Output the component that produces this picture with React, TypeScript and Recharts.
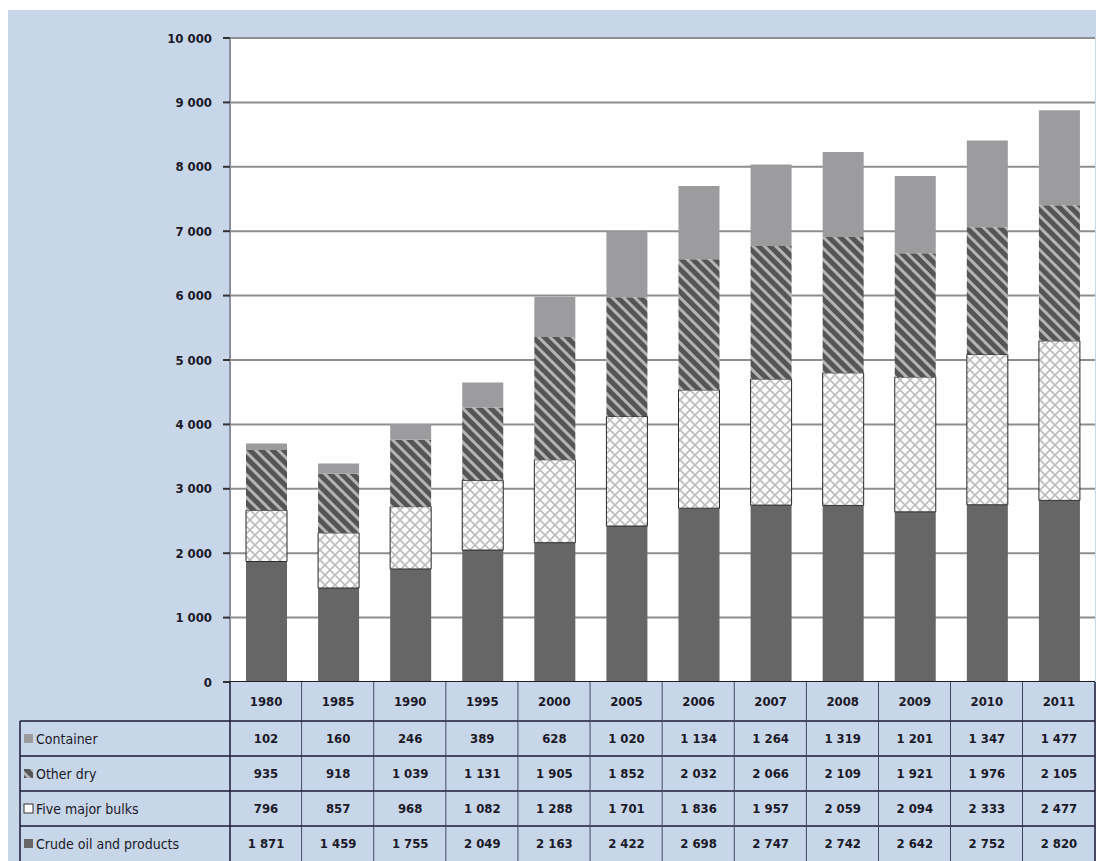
import React from 'react';
import { BarChart, Bar, XAxis, YAxis, CartesianGrid } from 'recharts';

const YEARS = ['1980', '1985', '1990', '1995', '2000', '2005', '2006', '2007', '2008', '2009', '2010', '2011'];
const CONTAINER = [102, 160, 246, 389, 628, 1020, 1134, 1264, 1319, 1201, 1347, 1477];
const OTHER_DRY = [935, 918, 1039, 1131, 1905, 1852, 2032, 2066, 2109, 1921, 1976, 2105];
const FIVE_MAJOR = [796, 857, 968, 1082, 1288, 1701, 1836, 1957, 2059, 2094, 2333, 2477];
const CRUDE = [1871, 1459, 1755, 2049, 2163, 2422, 2698, 2747, 2742, 2642, 2752, 2820];
const Y_TICKS = [0, 1000, 2000, 3000, 4000, 5000, 6000, 7000, 8000, 9000, 10000];

const SERIES_ROWS = [
  { label: 'Container', values: CONTAINER, key: 'container' },
  { label: 'Other dry', values: OTHER_DRY, key: 'other' },
  { label: 'Five major bulks', values: FIVE_MAJOR, key: 'five' },
  { label: 'Crude oil and products', values: CRUDE, key: 'crude' },
];

const data = YEARS.map((year, i) => ({
  year,
  crude: CRUDE[i],
  five: FIVE_MAJOR[i],
  other: OTHER_DRY[i],
  container: CONTAINER[i],
}));

const W = 1096;
const H = 861;
const LEFT = 230;
const RIGHT_M = 1;
const TOP = 38;
const XAXIS_H = 179;
const COL_W = (W - LEFT - RIGHT_M) / YEARS.length;
const HEADER_H = 39;
const ROW_H = 35;
const LABEL_LEFT = 20;
const FONT = "'Liberation Sans Narrow', 'DejaVu Sans Condensed', 'Arial Narrow', sans-serif";
const TEXT = '#1a1a28';
const BORDER = '#1a1a36';
const CELL_BG = '#c8d6ea';

const COLORS = {
  crude: '#666666',
  container: '#9c9c9e',
};

const fmt = (v: number) => {
  const s = String(v);
  if (s.length <= 3) return s;
  return s.slice(0, s.length - 3) + ' ' + s.slice(s.length - 3);
};

function LegendKey({ k, x, y }: { k: string; x: number; y: number }) {
  const size = 9;
  let fill = COLORS.container;
  let stroke = 'none';
  if (k === 'crude') fill = COLORS.crude;
  if (k === 'other') fill = 'url(#stripes)';
  if (k === 'five') {
    fill = '#ffffff';
    stroke = '#333';
  }
  return <rect x={x} y={y - size / 2} width={size} height={size} fill={fill} stroke={stroke} strokeWidth={1} />;
}

function TableTick(props: any) {
  const { x, y, payload } = props;
  const i = YEARS.indexOf(String(payload.value));
  const left = x - COL_W / 2;
  const right = x + COL_W / 2;
  const top = y;
  const rowsTop = top + HEADER_H;
  const bottom = rowsTop + ROW_H * SERIES_ROWS.length;
  const els: React.ReactNode[] = [];
  els.push(<rect key="bg" x={left} y={top} width={COL_W} height={bottom - top} fill={CELL_BG} />);
  if (i === 0) {
    els.push(
      <rect key="lbg" x={LABEL_LEFT} y={rowsTop} width={left - LABEL_LEFT} height={bottom - rowsTop} fill={CELL_BG} />
    );
    SERIES_ROWS.forEach((r, ri) => {
      const cy = rowsTop + ROW_H * ri + ROW_H / 2;
      els.push(<LegendKey key={'k' + ri} k={r.key} x={LABEL_LEFT + 4} y={cy} />);
      els.push(
        <text
          key={'l' + ri}
          x={LABEL_LEFT + 16}
          y={cy}
          dy="0.36em"
          fontFamily={FONT}
          fontSize={14}
          fill={TEXT}
        >
          {r.label}
        </text>
      );
    });
    els.push(<line key="lv0" x1={LABEL_LEFT} x2={LABEL_LEFT} y1={rowsTop} y2={bottom} stroke={BORDER} strokeWidth={1.5} />);
    els.push(<line key="lv1" x1={left} x2={left} y1={top} y2={bottom} stroke={BORDER} strokeWidth={1.5} />);
    for (let r = 0; r < SERIES_ROWS.length; r++) {
      const yy = rowsTop + ROW_H * r;
      els.push(<line key={'lh' + r} x1={LABEL_LEFT} x2={left} y1={yy} y2={yy} stroke={BORDER} strokeWidth={1.5} />);
    }
  }
  els.push(
    <text
      key="yr"
      x={x}
      y={top + HEADER_H / 2}
      dy="0.36em"
      textAnchor="middle"
      fontFamily={FONT}
      fontWeight="bold"
      fontSize={13}
      fill={TEXT}
    >
      {payload.value}
    </text>
  );
  SERIES_ROWS.forEach((r, ri) => {
    const cy = rowsTop + ROW_H * ri + ROW_H / 2;
    els.push(
      <text
        key={'v' + ri}
        x={x}
        y={cy}
        dy="0.36em"
        textAnchor="middle"
        fontFamily={FONT}
        fontWeight="bold"
        fontSize={13}
        fill={TEXT}
      >
        {fmt(r.values[i])}
      </text>
    );
    const yy = rowsTop + ROW_H * ri;
    els.push(<line key={'h' + ri} x1={left} x2={right} y1={yy} y2={yy} stroke={BORDER} strokeWidth={1.5} />);
  });
  els.push(<line key="vr" x1={right} x2={right} y1={top} y2={bottom} stroke={BORDER} strokeWidth={1.5} />);
  return <g>{els}</g>;
}

export default function App() {
  return (
    <div style={{ position: 'absolute', left: 0, top: 0, width: W, height: H, background: '#ffffff', overflow: 'hidden' }}>
      <div style={{ position: 'absolute', left: 8, top: 10, width: W - 8, height: H - 10, background: CELL_BG }} />
      <svg width={0} height={0} style={{ position: 'absolute' }}>
        <defs>
          <pattern id="stripes" width={8} height={8} patternUnits="userSpaceOnUse" patternTransform="rotate(-45)">
            <rect x={0} y={0} width={8} height={8} fill="#b4b4b4" />
            <rect x={0} y={0} width={5} height={8} fill="#555555" />
          </pattern>
          <pattern id="lattice" width={10} height={10} patternUnits="userSpaceOnUse">
            <rect x={0} y={0} width={10} height={10} fill="#ffffff" />
            <path d="M0,0 L10,10 M10,0 L0,10" stroke="#bdbdbd" strokeWidth={1.6} fill="none" />
          </pattern>
        </defs>
      </svg>
      <div style={{ position: 'absolute', left: 0, top: 0 }}>
        <BarChart
          width={W}
          height={H}
          data={data}
          margin={{ top: TOP, right: RIGHT_M, left: 0, bottom: 0 }}
          barSize={41}
        >
          <CartesianGrid horizontal vertical={false} fill="#ffffff" stroke="#8e8e8e" strokeWidth={2} />
          <YAxis
            width={LEFT}
            domain={[0, 10000]}
            ticks={Y_TICKS}
            interval={0}
            tickFormatter={fmt}
            tickSize={7}
            tickMargin={11}
            axisLine={{ stroke: '#8b8fa0', strokeWidth: 2 }}
            tickLine={{ stroke: '#333333', strokeWidth: 2 }}
            tick={{ fontFamily: FONT, fontWeight: 'bold', fontSize: 13, fill: TEXT }}
          />
          <Bar dataKey="crude" stackId="s" fill={COLORS.crude} isAnimationActive={false} />
          <Bar dataKey="five" stackId="s" fill="url(#lattice)" stroke="#2a2a2a" strokeWidth={1} isAnimationActive={false} />
          <Bar dataKey="other" stackId="s" fill="url(#stripes)" isAnimationActive={false} />
          <Bar dataKey="container" stackId="s" fill={COLORS.container} isAnimationActive={false} />
          <XAxis
            dataKey="year"
            height={XAXIS_H}
            interval={0}
            tickLine={false}
            tickSize={0}
            tickMargin={0}
            axisLine={{ stroke: '#222222', strokeWidth: 2 }}
            tick={<TableTick />}
          />
        </BarChart>
      </div>
    </div>
  );
}
